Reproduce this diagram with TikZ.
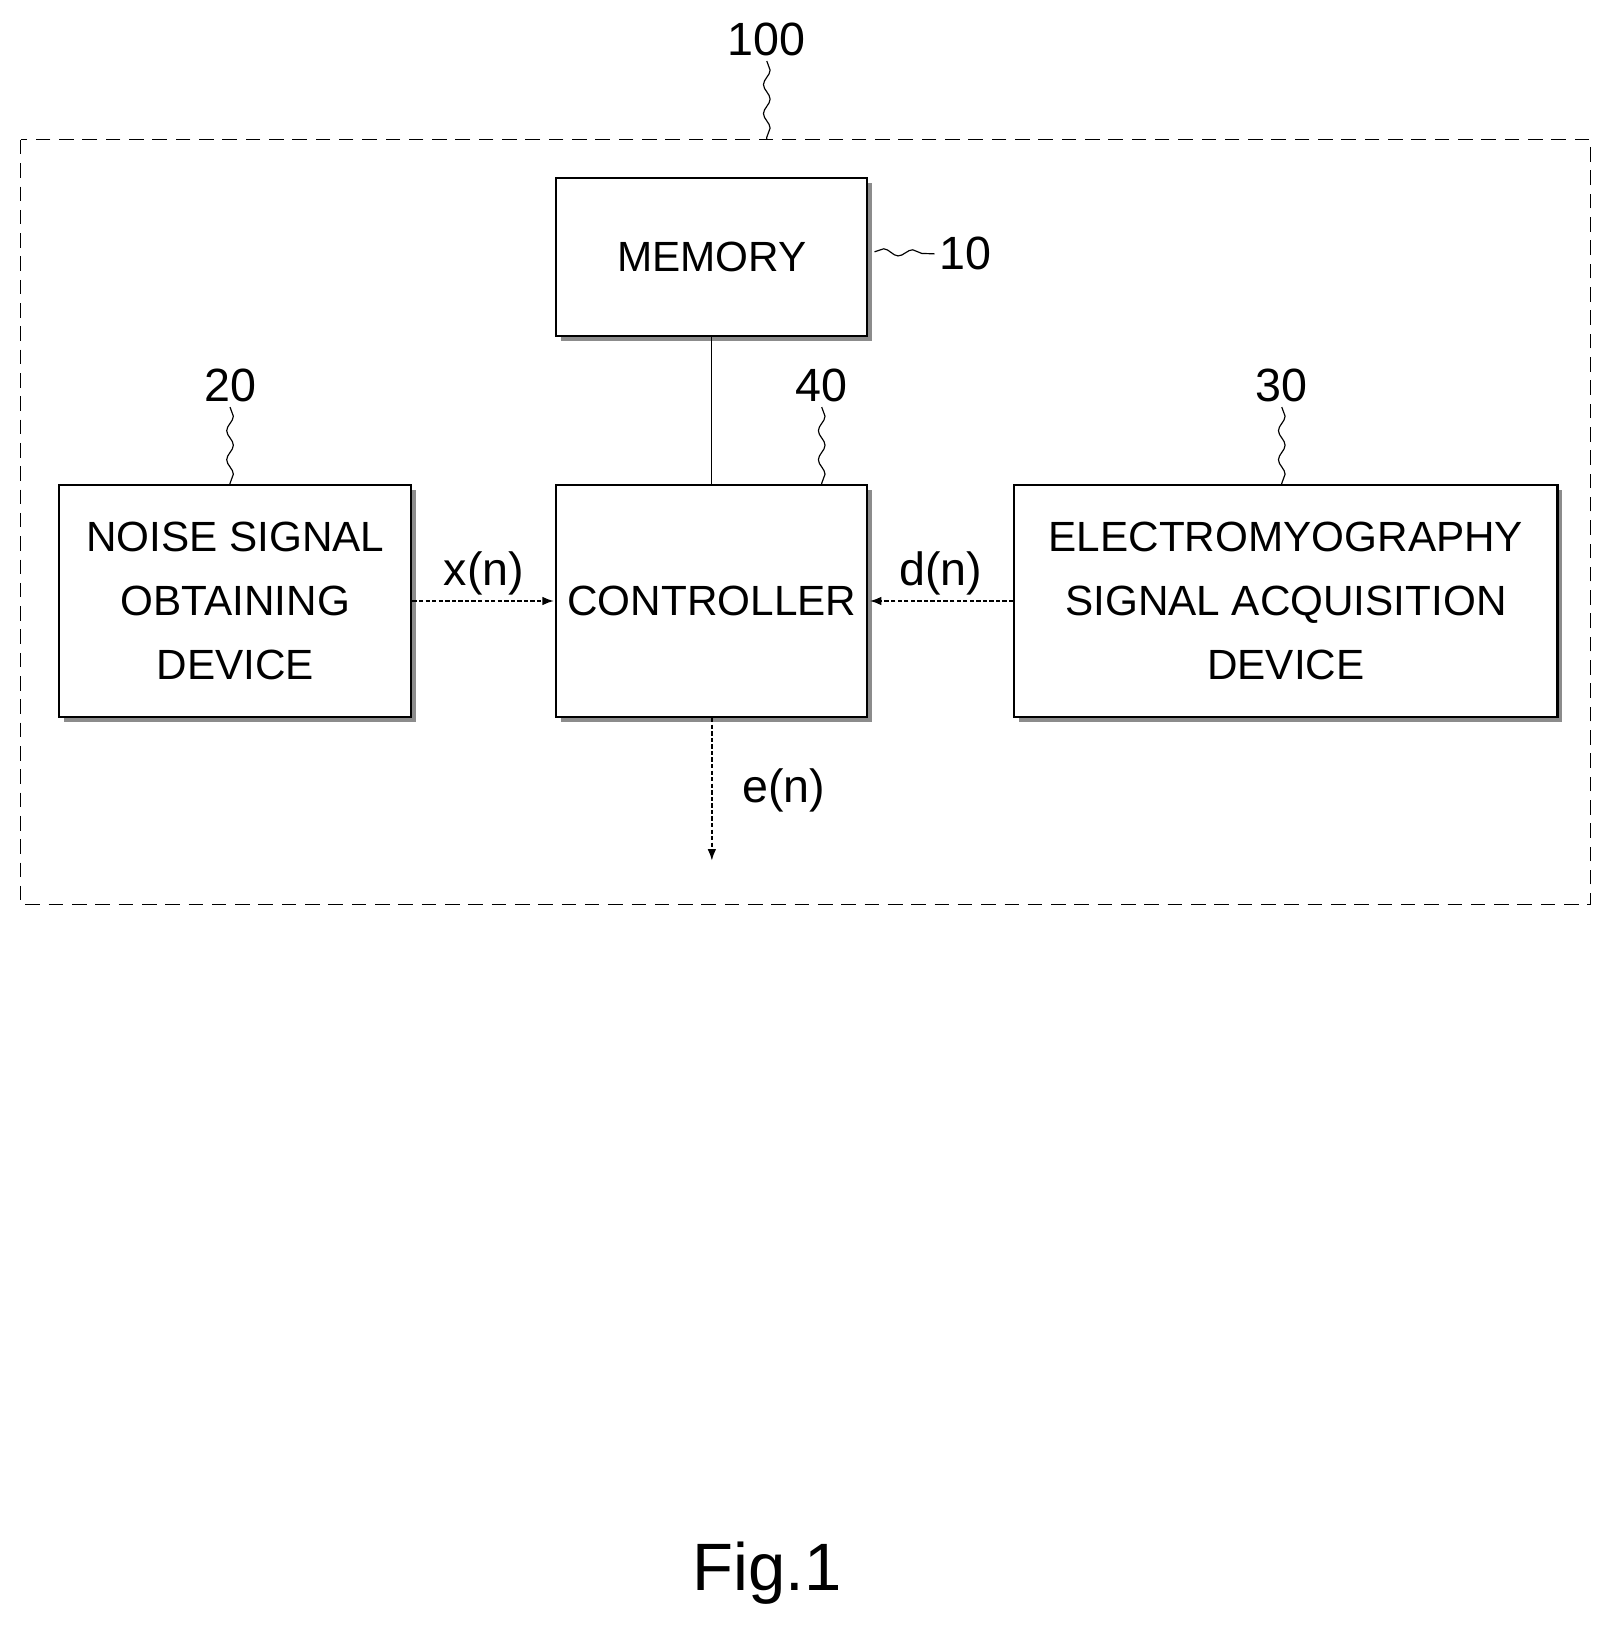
\documentclass[tikz,border=0pt]{standalone}
\usepackage{fontspec}
\setmainfont{Liberation Sans}
\usetikzlibrary{arrows.meta,positioning,shadows,decorations.pathmorphing}

\tikzset{
  block/.style={draw,line width=1.4pt,fill=white,align=center,inner sep=2pt,font=\fontsize{29}{44}\selectfont,
    drop shadow={shadow xshift=0.12cm,shadow yshift=-0.12cm,fill=gray!90,opacity=1}},
  tag/.style={font=\fontsize{32}{38}\selectfont},
  wiggle/.style={decorate,decoration={snake,amplitude=0.08cm,segment length=0.7cm},line width=0.8pt},
  sig/.style={-{Latex[length=8pt,width=6pt]},dash pattern=on 3pt off 1.5pt,line width=1.2pt,shorten >=1pt}
}

\begin{document}
\begin{tikzpicture}[x=0.025cm,y=-0.025cm]
    \useasboundingbox (0,0) rectangle (1560,1575);
    \draw[dash pattern=on 10pt off 6pt,line width=0.8pt] (20,135) rectangle (1535,873);
    \node[block,minimum width=7.5cm,minimum height=3.8cm] (mem) at (687,248) {MEMORY};
    \node[block,minimum width=7.5cm,text width=7.3cm,minimum height=5.6cm] (ctrl) at (687,580) {CONTROLLER};
    \node[block,minimum width=8.5cm,minimum height=5.6cm] (noise) at (227,580) {NOISE SIGNAL\\OBTAINING\\DEVICE};
    \node[block,minimum width=13.1cm,minimum height=5.6cm] (emg) at (1241,580) {ELECTROMYOGRAPHY\\SIGNAL ACQUISITION\\DEVICE};
    \coordinate (out) at (687,832);
    % reference labels
    \node[tag] (n100) at (740,38) {100};
    \node[tag] (n10) at (932,245) {10};
    \node[tag] (n20) at (222,372) {20};
    \node[tag] (n40) at (793,372) {40};
    \node[tag] (n30) at (1237,372) {30};
    \draw[wiggle] (n100.south) -- (740,135);
    \draw[wiggle] (mem.east) ++(6,-5) -- (n10.west);
    \draw[wiggle] (n20.south) -- (222,467);
    \draw[wiggle] (n40.south) -- (793,467);
    \draw[wiggle] (n30.south) -- (1237,467);
    % signals
    \draw[line width=0.8pt] (mem) -- (ctrl);
    \draw[sig] (noise) -- node[tag,above] {x(n)} (ctrl);
    \draw[sig] (emg) -- node[tag,above] {d(n)} (ctrl);
    \draw[sig] (ctrl) -- node[tag,right=0.6cm] {e(n)} (out);
    \node[font=\fontsize{46}{54}\selectfont] (fig) at (740,1518) {Fig.1};
\end{tikzpicture}
\end{document}
